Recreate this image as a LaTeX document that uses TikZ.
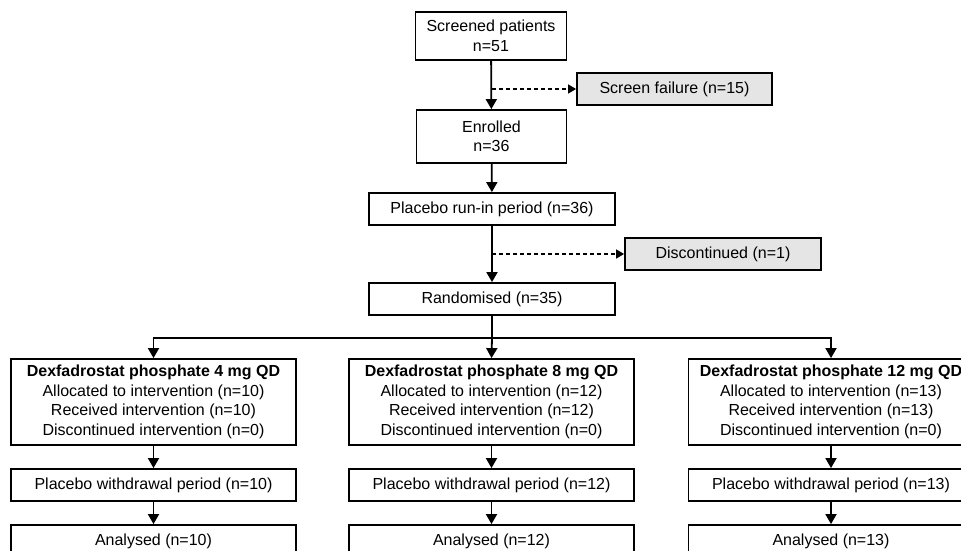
\documentclass[tikz,border=0pt]{standalone}
\usepackage{fontspec}
\setmainfont{Liberation Sans}
\usetikzlibrary{arrows.meta, positioning}

\begin{document}
\begin{tikzpicture}[x = 1pt, y = -1pt,
  box/.style = {draw, line width = 1.8pt, inner sep = 0pt, align = center, font = \fontsize{16}{19.5}\selectfont},
  wide/.style = {box, minimum width = 285pt, minimum height = 32pt},
  arm/.style = {box, minimum width = 285pt, minimum height = 86pt},
  side/.style = {box, fill = black!10, minimum height = 32pt},
  flow/.style = {line width = 1.8pt, -{Triangle[length = 10pt, width = 11pt]}},
  lost/.style = {line width = 1.4pt, dash pattern = on 4pt off 3pt, -{Triangle[length = 8pt, width = 9pt]}}]
\useasboundingbox (0,0) rectangle (961,551);
\clip (0,0) rectangle (961,551);
% screening
\node[box, minimum width = 151pt, minimum height = 48pt] (screened) at (491,36) {Screened patients\\n=51};
\node[side, minimum width = 195pt] (fail) at (674.5,89) {Screen failure (n=15)};
\node[box, minimum width = 150pt, minimum height = 53pt] (enrolled) at (491.5,136.5) {Enrolled\\n=36};
\node[box, minimum width = 246pt, minimum height = 32pt] (runin) at (492,209) {Placebo run-in period (n=36)};
\node[side, minimum width = 196pt] (disc) at (723,254) {Discontinued (n=1)};
\node[box, minimum width = 246pt, minimum height = 32pt] (random) at (492,299) {Randomised (n=35)};
% arms
\foreach \i/\x/\d/\n in {1/153.5/4/10, 2/491.5/8/12, 3/831/12/13} {
  \node[arm] (arm\i) at (\x,402) {\textbf{Dexfadrostat phosphate \d\ mg QD}\\Allocated to intervention (n=\n)\\Received intervention (n=\n)\\Discontinued intervention (n=0)};
  \node[wide] (wd\i) at (\x,485) {Placebo withdrawal period (n=\n)};
  \node[wide] (an\i) at (\x,541) {Analysed (n=\n)};
  \draw[flow] (arm\i) -- (wd\i);
  \draw[flow] (wd\i) -- (an\i);
}
% connectors
\draw[flow] (screened) -- (enrolled);
\draw[flow] (enrolled) -- (runin);
\draw[flow] (runin) -- (random);
\coordinate (f1) at (492,89);
\coordinate (f2) at (492,254);
\draw[lost] (f1) -- (fail.west);
\draw[lost] (f2) -- (disc.west);
\draw[line width = 1.8pt] (random.south) -- ++(0,22) coordinate (split);
\draw[flow] (split) -- (arm2.north);
\draw[flow] (split) -| (arm1.north);
\draw[flow] (split) -| (arm3.north);
\end{tikzpicture}
\end{document}
